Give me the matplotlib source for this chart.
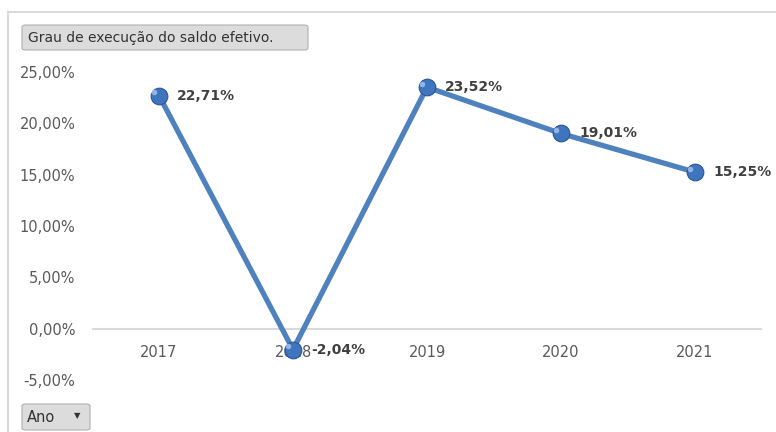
import matplotlib
matplotlib.use("Agg")
import matplotlib.pyplot as plt
from matplotlib.patches import FancyBboxPatch
from matplotlib.lines import Line2D
from matplotlib.ticker import FuncFormatter

years = ["2017", "2018", "2019", "2020", "2021"]
values = [22.71, -2.04, 23.52, 19.01, 15.25]
y_ticks = [-5, 0, 5, 10, 15, 20, 25]
title_text = "Grau de execução do saldo efetivo."
axis_button = "Ano"

W, H = 776, 432
fig = plt.figure(figsize=(W / 100, H / 100), dpi=100)
fig.patch.set_facecolor("white")

# outer frame lines
fig.add_artist(Line2D([8 / W, 1], [1 - 12 / H, 1 - 12 / H], color="#d9d9d9", lw=1.5))
fig.add_artist(Line2D([8 / W, 8 / W], [0, 1 - 12 / H], color="#d9d9d9", lw=1.5))

ax = fig.add_axes([92 / W, 1 - 380 / H, (762 - 92) / W, (380 - 72) / H])
ax.set_facecolor("none")
x = list(range(len(years)))
ax.plot(x, values, color="#4F81BD", lw=3.8, solid_capstyle="round", zorder=3)
ax.plot(x, values, ls="none", marker="o", ms=12, mfc="#3f74bf", mec="#2a558f", mew=0.8, zorder=4)
ax.plot([xi - 0.04 for xi in x], [v + 0.35 for v in values], ls="none", marker="o", ms=4,
        mfc="#a9c6ee", mec="none", alpha=0.8, zorder=5)

for xi, v in zip(x, values):
    ax.annotate(f"{v:.2f}%".replace(".", ","), (xi, v), xytext=(13, 0), textcoords="offset points",
                ha="left", va="center", fontsize=10, fontweight="bold", color="#404040", zorder=6)

ax.set_xlim(-0.5, len(years) - 0.5)
ax.set_ylim(-5, 25)
ax.set_yticks(y_ticks)
ax.yaxis.set_major_formatter(FuncFormatter(lambda v, p: f"{v:.2f}%".replace(".", ",")))
ax.axhline(0, color="#d9d9d9", lw=1.5, zorder=1)
for s in ax.spines.values():
    s.set_visible(False)
ax.tick_params(axis="y", length=0, pad=12, labelsize=10.5, labelcolor="#595959")
ax.set_xticks([])
for xi, yr in zip(x, years):
    ax.text(xi, -2.3, yr, ha="center", va="center", fontsize=10.5, color="#595959", zorder=2)

# title button
fig.add_artist(FancyBboxPatch((22 / W, 1 - 50 / H), 286 / W, 25 / H,
                              boxstyle="round,pad=0,rounding_size=0.005", fc="#dcdcdc", ec="#b0b0b0", lw=0.8,
                              transform=fig.transFigure))
fig.text(28 / W, 1 - 38 / H, title_text, ha="left", va="center", fontsize=10, color="#333333")

# axis button
fig.add_artist(FancyBboxPatch((22 / W, 1 - 430 / H), 68 / W, 26 / H,
                              boxstyle="round,pad=0,rounding_size=0.005", fc="#dcdcdc", ec="#b0b0b0", lw=0.8,
                              transform=fig.transFigure))
fig.text(27 / W, 1 - 418 / H, axis_button, ha="left", va="center", fontsize=10.5, color="#333333")
fig.text(77 / W, 1 - 416 / H, "▼", ha="center", va="center", fontsize=6, color="#333333")

fig.savefig("out.png", dpi=100)
